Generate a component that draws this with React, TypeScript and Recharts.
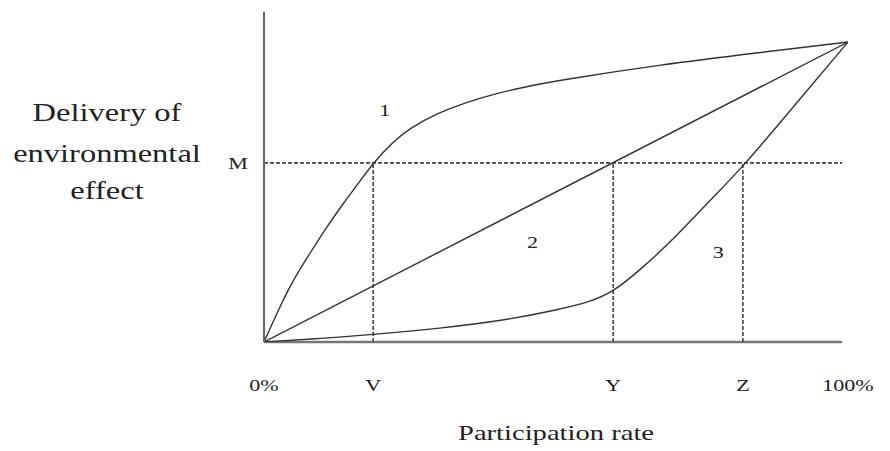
import { LineChart, Line, XAxis, YAxis, ReferenceLine, ReferenceDot } from 'recharts'

// participation rate (share of 1) on x, delivery of effect on y
const levelM = 0.597
const rateV = 0.187
const rateY = 0.598
const rateZ = 0.82

const tickRates = [0, rateV, rateY, rateZ, 1]
const tickNames = ['0%', 'V', 'Y', 'Z', '100%']

const curve1Rate = [0, 0.027, 0.05, 0.079, 0.108, 0.135, 0.164, 0.187, 0.221, 0.25, 0.296, 0.348, 0.392, 0.438, 0.507, 0.68, 0.85, 1]
const curve1Effect = [0, 0.117, 0.207, 0.297, 0.385, 0.46, 0.535, 0.597, 0.668, 0.713, 0.762, 0.8, 0.825, 0.847, 0.873, 0.925, 0.965, 1]

const curve2Rate = [0, 1]
const curve2Effect = [0, 1]

const curve3Rate = [0, 0.1, 0.187, 0.3, 0.416, 0.502, 0.558, 0.598, 0.644, 0.7, 0.759, 0.82, 0.906, 1]
const curve3Effect = [0, 0.012, 0.025, 0.045, 0.073, 0.107, 0.133, 0.167, 0.24, 0.34, 0.463, 0.583, 0.783, 1]

const curveNames = ['1', '2', '3']
const curveLabelAt = [
  { x: 0.207, y: 0.773 },
  { x: 0.46, y: 0.333 },
  { x: 0.778, y: 0.3 },
]

const yTitle = ['Delivery of', 'environmental', 'effect']
const xTitle = 'Participation rate'

const toPoints = (rates: number[], effects: number[]) =>
  rates.map((rate, i) => ({ rate, effect: effects[i] }))

const FONT = '"Liberation Serif", "Times New Roman", serif'
const INK = '#333'
const STRETCH = 'scale(1.3,1)'

function StretchText({ x, y, size, children, anchor = 'middle' }: any) {
  return (
    <g transform={`translate(${x},${y}) ${STRETCH}`}>
      <text x={0} y={0} textAnchor={anchor} fontFamily={FONT} fontSize={size} fill="#222">
        {children}
      </text>
    </g>
  )
}

const RateTick = ({ x, y, index }: any) => (
  <StretchText x={x} y={y + 41} size={17}>
    {tickNames[index]}
  </StretchText>
)

const LevelTick = ({ x, y }: any) => (
  <StretchText x={x - 8} y={y + 6} size={17} anchor="end">
    M
  </StretchText>
)

const YTitle = ({ viewBox }: any) => (
  <g>
    {yTitle.map((line, i) => (
      <StretchText key={i} x={viewBox.x - 156} y={viewBox.y + [109, 150, 187][i]} size={25}>
        {line}
      </StretchText>
    ))}
  </g>
)

const XTitle = ({ viewBox }: any) => (
  <StretchText x={viewBox.x + viewBox.width / 2} y={viewBox.y + 98} size={22}>
    {xTitle}
  </StretchText>
)

const CurveName = ({ viewBox, value }: any) => (
  <StretchText x={viewBox.x} y={viewBox.y + 6} size={17}>
    {value}
  </StretchText>
)

export default function App() {
  const dash = '4 2'
  return (
    <LineChart width={874} height={443} margin={{ top: 4, right: 34, left: 255, bottom: 79 }}>
      <XAxis
        type="number"
        dataKey="rate"
        domain={[0, 1]}
        ticks={tickRates}
        height={30}
        axisLine={false}
        tickLine={false}
        tick={<RateTick />}
        label={<XTitle />}
        allowDataOverflow
      />
      <YAxis
        type="number"
        dataKey="effect"
        domain={[0, 1.1]}
        ticks={[levelM]}
        width={1}
        axisLine={{ stroke: '#666', strokeWidth: 2 }}
        tickLine={false}
        tick={<LevelTick />}
        label={<YTitle />}
        allowDataOverflow
      />

      <ReferenceLine segment={[{ x: 0, y: 0 }, { x: 0.99, y: 0 }]} stroke="#777" strokeWidth={2.5} />
      <ReferenceLine segment={[{ x: 0, y: levelM }, { x: 0.99, y: levelM }]} stroke="#444" strokeDasharray={dash} strokeWidth={1.6} />
      {[rateV, rateY, rateZ].map((r) => (
        <ReferenceLine key={r} segment={[{ x: r, y: 0 }, { x: r, y: levelM }]} stroke="#444" strokeDasharray={dash} strokeWidth={1.6} />
      ))}

      <Line data={toPoints(curve1Rate, curve1Effect)} dataKey="effect" type="basis" stroke={INK} strokeWidth={1.4} dot={false} isAnimationActive={false} />
      <Line data={toPoints(curve2Rate, curve2Effect)} dataKey="effect" type="linear" stroke={INK} strokeWidth={1.4} dot={false} isAnimationActive={false} />
      <Line data={toPoints(curve3Rate, curve3Effect)} dataKey="effect" type="basis" stroke={INK} strokeWidth={1.4} dot={false} isAnimationActive={false} />

      {curveLabelAt.map((p, i) => (
        <ReferenceDot key={i} x={p.x} y={p.y} r={0} stroke="none" label={<CurveName value={curveNames[i]} />} />
      ))}
    </LineChart>
  )
}
